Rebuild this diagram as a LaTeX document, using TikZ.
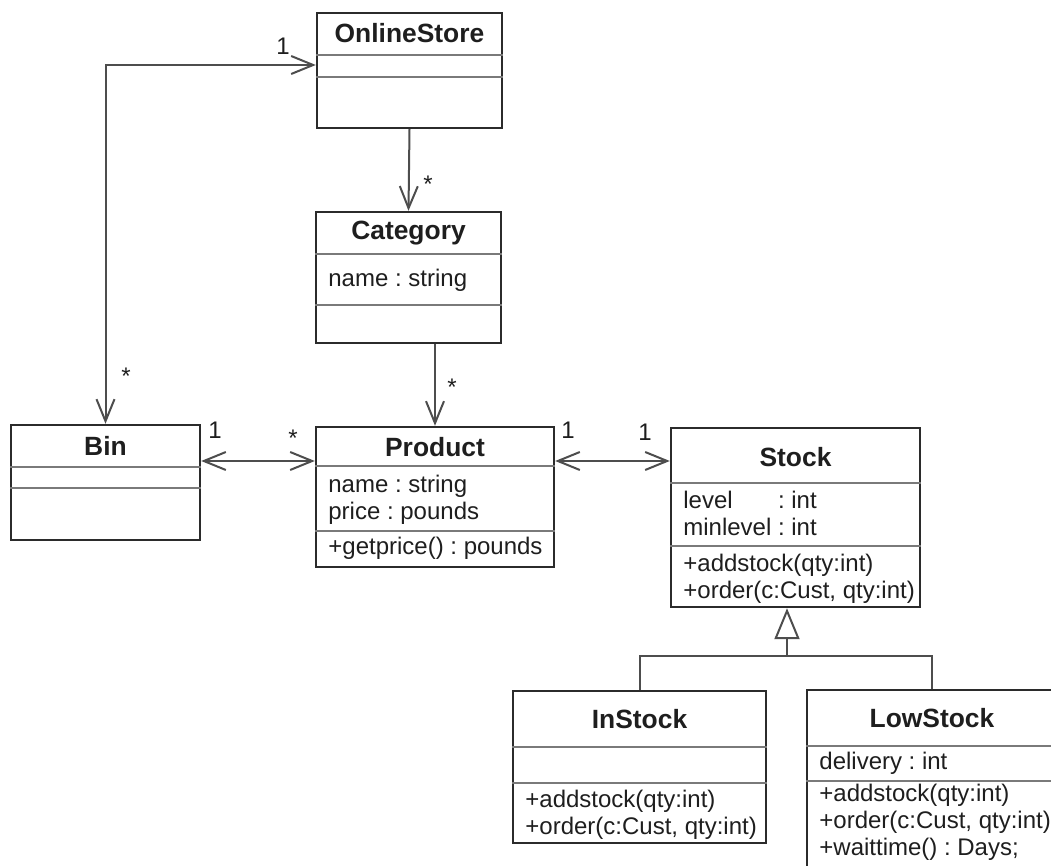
\documentclass[tikz,border=0pt]{standalone}
\usepackage{fontspec}
\setmainfont{Liberation Sans}
\usetikzlibrary{arrows.meta,calc}
\definecolor{boxline}{HTML}{2B2B2B}
\definecolor{linkline}{HTML}{4D4D4D}
\definecolor{sepline}{HTML}{7A7A7A}
\definecolor{inktext}{HTML}{1E1E1E}
\frenchspacing

\begin{document}
\begin{tikzpicture}[x=0.5pt, y=-0.5pt,
  cls/.style={draw=boxline, line width=1.2pt, inner sep=0pt},
  ttl/.style={font=\fontsize{13.2}{15}\selectfont\bfseries, text=inktext},
  txt/.style={font=\fontsize{12}{13.4}\selectfont, text=inktext, align=left,
              anchor=west, inner sep=0pt},
  sep/.style={draw=sepline, line width=0.9pt},
  mult/.style={font=\fontsize{12}{14}\selectfont, text=inktext, inner sep=0pt},
  assoc/.style={draw=linkline, line width=1pt,
                {Straight Barb[length=11pt,width=9pt]}-{Straight Barb[length=11pt,width=9pt]}},
  nav/.style={draw=linkline, line width=1pt, -{Straight Barb[length=11pt,width=9pt]}},
  gen/.style={draw=linkline, line width=1pt, -{Triangle[open, length=15.5pt, width=12.5pt]}},
]
\useasboundingbox (0,0) rectangle (1051,866);
\clip (0,0) rectangle (1051,866);

% ── Classes ─────────────────────────────────────────────────────────────
\node[cls, minimum width=92.5pt, minimum height=57.5pt] (store) at (409.5,70.5) {};
\node[ttl] (storettl) at (409.5,33) {OnlineStore};

\node[cls, minimum width=92.5pt, minimum height=65.5pt] (cat) at (408.5,277.5) {};
\node[ttl] (catttl) at (408.5,233) {Category};
\node[txt] (catattr) at (328,280) {name : string};

\node[cls, minimum width=94.5pt, minimum height=57.5pt] (bin) at (105.5,482.5) {};
\node[ttl] (binttl) at (105.5,446) {Bin};

\node[cls, minimum width=119pt, minimum height=70pt] (prod) at (435,497) {};
\node[ttl] (prodttl) at (435,447) {Product};
\node[txt] (prodattr) at (328,499.5) {name : string\\price : pounds};
\node[txt] (prodops) at (328,548) {+getprice() : pounds};

\node[cls, minimum width=124.5pt, minimum height=89.5pt] (stock) at (795.5,517.5) {};
\node[ttl] (stockttl) at (795.5,457) {Stock};
\node[txt] (stockattr) at (683,513.5) {level\phantom{min} : int\\minlevel : int};
\node[txt] (stockops) at (683,578.5) {+addstock(qty:int)\\+order(c:Cust, qty:int)};

\node[cls, minimum width=126.5pt, minimum height=76pt] (instock) at (639.5,767) {};
\node[ttl] (instockttl) at (639.5,719) {InStock};
\node[txt] (instockops) at (525,814.5) {+addstock(qty:int)\\+order(c:Cust, qty:int)};

\node[cls, minimum width=125pt, minimum height=105pt] (lowstock) at (932,795) {};
\node[ttl] (lowstockttl) at (932,718) {LowStock};
\node[txt] (lowstockattr) at (819,763) {delivery : int};
\node[txt] (lowstockops) at (819,822) {+addstock(qty:int)\\+order(c:Cust, qty:int)\\+waittime() : Days;};

% compartment separators
\foreach \c/\ya/\yb in {store/55/77, cat/254/305, bin/467/488, prod/466/531,
                        stock/483/546, instock/747/783, lowstock/746/781}
  \draw[sep] (\c.west |- 0,\ya) -- (\c.east |- 0,\ya)
             (\c.west |- 0,\yb) -- (\c.east |- 0,\yb);

% ── Associations ────────────────────────────────────────────────────────
\draw[assoc] (bin.north) |- ([yshift=2.75pt]store.west);
\draw[nav] (store.south) -- (cat.north);
\draw[nav] (cat.south -| prod.north) -- (prod.north);
\draw[assoc] ([yshift=10.75pt]bin.east) -- ([yshift=10.75pt]bin.east -| prod.west);
\draw[assoc] ([yshift=18pt]prod.east) -- ([yshift=18pt]prod.east -| stock.west);

\node[mult] (mstore) at (283,46) {1};
\node[mult] (mbintop) at (126,376) {*};
\node[mult] (mcat) at (428,184) {*};
\node[mult] (mprodtop) at (452,387) {*};
\node[mult] (mbinright) at (215,430) {1};
\node[mult] (mprodleft) at (293,438) {*};
\node[mult] (mprodright) at (568,430) {1};
\node[mult] (mstockleft) at (645,432) {1};

% ── Generalization ──────────────────────────────────────────────────────
\coordinate (genbar) at (787,656);
\draw[gen] (genbar) -- (stock.south -| genbar);
\draw[draw=linkline, line width=1pt] (instock.north) |- (genbar) -| (lowstock.north);

\end{tikzpicture}
\end{document}
